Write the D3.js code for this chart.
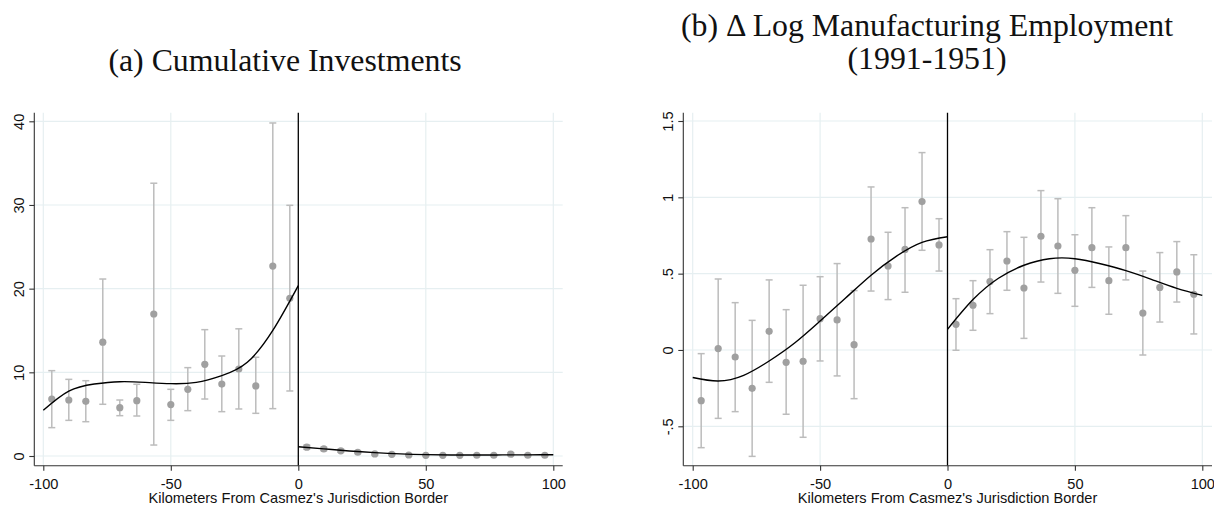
<!DOCTYPE html>
<html>
<head>
<meta charset="utf-8">
<script src="https://cdn.jsdelivr.net/npm/d3@7.9.0/dist/d3.min.js"></script>
<style>
  body { margin: 0; background: #fff; }
  svg text { font-family: "Liberation Sans", Arial, sans-serif; }
  .title { font-family: "Liberation Serif", "Times New Roman", serif !important; }
</style>
</head>
<body>
<svg id="chart" width="1214" height="505"></svg>
<script>
// Bin centres (km from the border)
const kmBinsLeft = [-96.67, -90, -83.33, -76.67, -70, -63.33, -56.67, -50, -43.33, -36.67, -30, -23.33, -16.67, -10, -3.33];
const kmBinsRight = [3.33, 10, 16.67, 23.33, 30, 36.67, 43.33, 50, 56.67, 63.33, 70, 76.67, 83.33, 90, 96.67];
const kmTicks = [-100, -50, 0, 50, 100];
const kmTickLabels = ["-100", "-50", "0", "50", "100"];

// (a) Cumulative investments
const invLeftMean = [6.81, 6.69, 6.53, 13.6, 5.78, 6.61, 16.97, 6.14, 7.97, 10.96, 8.6, 10.4, 8.37, 22.7, 18.84];
const invLeftLo   = [3.39, 4.26, 4.1, 6.18, 4.82, 4.78, 1.31, 4.26, 5.42, 6.81, 5.3, 5.62, 5.1, 5.66, 7.77];
const invLeftHi   = [10.2, 9.16, 9.0, 21.15, 6.69, 8.57, 32.6, 7.97, 10.56, 15.1, 11.95, 15.2, 11.8, 39.8, 29.96];
const invRightMean = [1.05, 0.85, 0.62, 0.45, 0.25, 0.2, 0.12, 0.08, 0.08, 0.08, 0.09, 0.09, 0.22, 0.09, 0.09];
const invRightLo   = [0.8, 0.65, 0.45, 0.3, 0.12, 0.08, 0.04, 0.02, 0.02, 0.02, 0.02, 0.02, 0.05, 0.02, 0.02];
const invRightHi   = [1.3, 1.05, 0.8, 0.6, 0.38, 0.32, 0.2, 0.14, 0.14, 0.14, 0.16, 0.16, 0.39, 0.16, 0.16];
const invFitLeftKm = [-100, -90, -80, -70, -60, -50, -40, -30, -20, -10, 0];
const invFitLeft   = [5.46, 7.75, 8.6, 8.88, 8.8, 8.65, 8.8, 9.6, 11.2, 15.0, 20.36];
const invFitRightKm = [0, 10, 20, 30, 40, 50, 60, 70, 80, 90, 100];
const invFitRight   = [1.1, 0.85, 0.6, 0.4, 0.25, 0.16, 0.12, 0.12, 0.13, 0.14, 0.15];
const invTicks = [0, 10, 20, 30, 40];
const invTickLabels = ["0", "10", "20", "30", "40"];

// (b) Delta log manufacturing employment
const empLeftMean = [-0.332, 0.009, -0.046, -0.251, 0.122, -0.081, -0.074, 0.205, 0.197, 0.035, 0.727, 0.550, 0.659, 0.972, 0.688];
const empLeftLo   = [-0.64, -0.448, -0.404, -0.697, -0.212, -0.421, -0.572, -0.072, -0.170, -0.319, 0.386, 0.330, 0.378, 0.653, 0.517];
const empLeftHi   = [-0.024, 0.465, 0.31, 0.194, 0.459, 0.264, 0.424, 0.480, 0.566, 0.389, 1.068, 0.771, 0.932, 1.293, 0.860];
const empRightMean = [0.168, 0.293, 0.448, 0.583, 0.406, 0.745, 0.681, 0.522, 0.670, 0.454, 0.670, 0.242, 0.410, 0.511, 0.365];
const empRightLo   = [-0.002, 0.129, 0.238, 0.391, 0.076, 0.445, 0.371, 0.286, 0.410, 0.234, 0.459, -0.033, 0.183, 0.314, 0.105];
const empRightHi   = [0.336, 0.454, 0.657, 0.775, 0.738, 1.044, 0.991, 0.755, 0.932, 0.675, 0.880, 0.517, 0.638, 0.710, 0.624];
const empFitLeftKm = [-100, -90, -80, -70, -60, -50, -40, -30, -20, -10, 0];
const empFitLeft   = [-0.18, -0.203, -0.166, -0.072, 0.046, 0.19, 0.34, 0.49, 0.615, 0.705, 0.742];
const empFitRightKm = [0, 10, 20, 30, 40, 50, 60, 70, 80, 90, 100];
const empFitRight   = [0.135, 0.33, 0.47, 0.555, 0.598, 0.598, 0.565, 0.52, 0.463, 0.404, 0.358];
const empTicks = [-0.5, 0, 0.5, 1, 1.5];
const empTickLabels = ["-.5", "0", ".5", "1", "1.5"];

const xLabel = "Kilometers From Casmez's Jurisdiction Border";

const svg = d3.select("#chart");

const gridColor = "#e6eff1",
      barColor = "#bcbcbc",
      dotColor = "#a0a0a0",
      axisColor = "#333";

function zip(km, mean, lo, hi) {
  return km.map((k, i) => ({ km: k, mean: mean[i], lo: lo[i], hi: hi[i] }));
}

function drawPanel(cfg) {
  const g = svg.append("g");
  const x = d3.scaleLinear().domain([-100, 100]).range(cfg.xRange);
  const y = d3.scaleLinear().domain(cfg.yDomain).range(cfg.yRange);
  const f = cfg.frame; // left, right, top, bottom

  // gridlines
  g.selectAll(".hgrid").data(cfg.yTicks).join("line")
    .attr("x1", f.left).attr("x2", f.right)
    .attr("y1", d => y(d)).attr("y2", d => y(d))
    .attr("stroke", gridColor).attr("stroke-width", 1.2);
  g.selectAll(".vgrid").data(kmTicks.filter(d => d !== 0)).join("line")
    .attr("x1", d => x(d)).attr("x2", d => x(d))
    .attr("y1", f.top).attr("y2", f.bottom)
    .attr("stroke", gridColor).attr("stroke-width", 1.2);

  // binned means with CIs
  const pts = zip(kmBinsLeft, cfg.leftMean, cfg.leftLo, cfg.leftHi)
    .concat(zip(kmBinsRight, cfg.rightMean, cfg.rightLo, cfg.rightHi));
  const bars = g.append("g").attr("stroke", barColor).attr("stroke-width", 1.5);
  bars.selectAll(".stem").data(pts).join("line")
    .attr("x1", d => x(d.km)).attr("x2", d => x(d.km))
    .attr("y1", d => y(d.lo)).attr("y2", d => y(d.hi));
  bars.selectAll(".capHi").data(pts).join("line")
    .attr("x1", d => x(d.km) - 3.5).attr("x2", d => x(d.km) + 3.5)
    .attr("y1", d => y(d.hi)).attr("y2", d => y(d.hi));
  bars.selectAll(".capLo").data(pts).join("line")
    .attr("x1", d => x(d.km) - 3.5).attr("x2", d => x(d.km) + 3.5)
    .attr("y1", d => y(d.lo)).attr("y2", d => y(d.lo));
  g.selectAll("circle").data(pts).join("circle")
    .attr("cx", d => x(d.km)).attr("cy", d => y(d.mean))
    .attr("r", 3.6).attr("fill", dotColor);

  // fitted polynomials on each side
  const line = d3.line().x(d => x(d[0])).y(d => y(d[1])).curve(d3.curveNatural);
  [[cfg.fitLeftKm, cfg.fitLeft], [cfg.fitRightKm, cfg.fitRight]].forEach(([km, v]) => {
    g.append("path")
      .attr("d", line(km.map((k, i) => [k, v[i]])))
      .attr("fill", "none").attr("stroke", "#000").attr("stroke-width", 1.4);
  });

  // border line
  g.append("line")
    .attr("x1", x(0)).attr("x2", x(0)).attr("y1", f.top).attr("y2", f.bottom)
    .attr("stroke", "#000").attr("stroke-width", 1.3);

  // axes
  const xAxis = g.append("g")
    .attr("transform", `translate(0,${f.bottom})`)
    .call(d3.axisBottom(x).tickValues(kmTicks).tickFormat((d, i) => kmTickLabels[i])
      .tickSize(5).tickSizeOuter(0).tickPadding(7.5));
  xAxis.select(".domain").remove();

  const yAxis = g.append("g")
    .attr("transform", `translate(${f.left},0)`)
    .call(d3.axisLeft(y).tickValues(cfg.yTicks).tickFormat((d, i) => cfg.yTickLabels[i])
      .tickSize(5).tickSizeOuter(0));
  yAxis.select(".domain").remove();
  yAxis.selectAll("text")
    .attr("x", null).attr("dy", null)
    .attr("text-anchor", "middle")
    .attr("transform", "translate(-10.8,0) rotate(-90)");

  [xAxis, yAxis].forEach(a => {
    a.selectAll("line").attr("stroke", axisColor).attr("stroke-width", 1.1);
    a.selectAll("text").attr("font-size", "14.6px").attr("fill", "#111")
      .style("font-family", "'Liberation Sans', Arial, sans-serif");
  });

  g.append("line")
    .attr("x1", f.left).attr("x2", f.right).attr("y1", f.bottom).attr("y2", f.bottom)
    .attr("stroke", axisColor).attr("stroke-width", 1.1);
  g.append("line")
    .attr("x1", f.left).attr("x2", f.left).attr("y1", f.top).attr("y2", f.bottom)
    .attr("stroke", axisColor).attr("stroke-width", 1.1);

  // axis title
  g.append("text")
    .attr("x", (x(-100) + x(100)) / 2).attr("y", 503)
    .attr("text-anchor", "middle")
    .attr("font-size", "14.6px").attr("fill", "#111")
    .text(xLabel);

  // panel title
  const t = g.append("text").attr("class", "title")
    .attr("text-anchor", "middle")
    .attr("font-size", "31.8px").attr("fill", "#111");
  cfg.title.forEach((s, i) => {
    t.append("tspan").attr("x", cfg.titleX).attr("y", cfg.titleY[i]).text(s);
  });
}

drawPanel({
  xRange: [43.3, 553.3],
  yDomain: [0, 40], yRange: [456, 121.3],
  frame: { left: 34.3, right: 562.7, top: 112.7, bottom: 465.7 },
  yTicks: invTicks, yTickLabels: invTickLabels,
  leftMean: invLeftMean, leftLo: invLeftLo, leftHi: invLeftHi,
  rightMean: invRightMean, rightLo: invRightLo, rightHi: invRightHi,
  fitLeftKm: invFitLeftKm, fitLeft: invFitLeft,
  fitRightKm: invFitRightKm, fitRight: invFitRight,
  title: ["(a) Cumulative Investments"], titleX: 285, titleY: [71]
});

drawPanel({
  xRange: [692.7, 1202.3],
  yDomain: [-0.5, 1.5], yRange: [426.3, 121],
  frame: { left: 683.3, right: 1212, top: 112.7, bottom: 465.7 },
  yTicks: empTicks, yTickLabels: empTickLabels,
  leftMean: empLeftMean, leftLo: empLeftLo, leftHi: empLeftHi,
  rightMean: empRightMean, rightLo: empRightLo, rightHi: empRightHi,
  fitLeftKm: empFitLeftKm, fitLeft: empFitLeft,
  fitRightKm: empFitRightKm, fitRight: empFitRight,
  title: ["(b) \u0394 Log Manufacturing Employment", "(1991-1951)"], titleX: 927, titleY: [36, 69]
});
</script>
</body>
</html>
